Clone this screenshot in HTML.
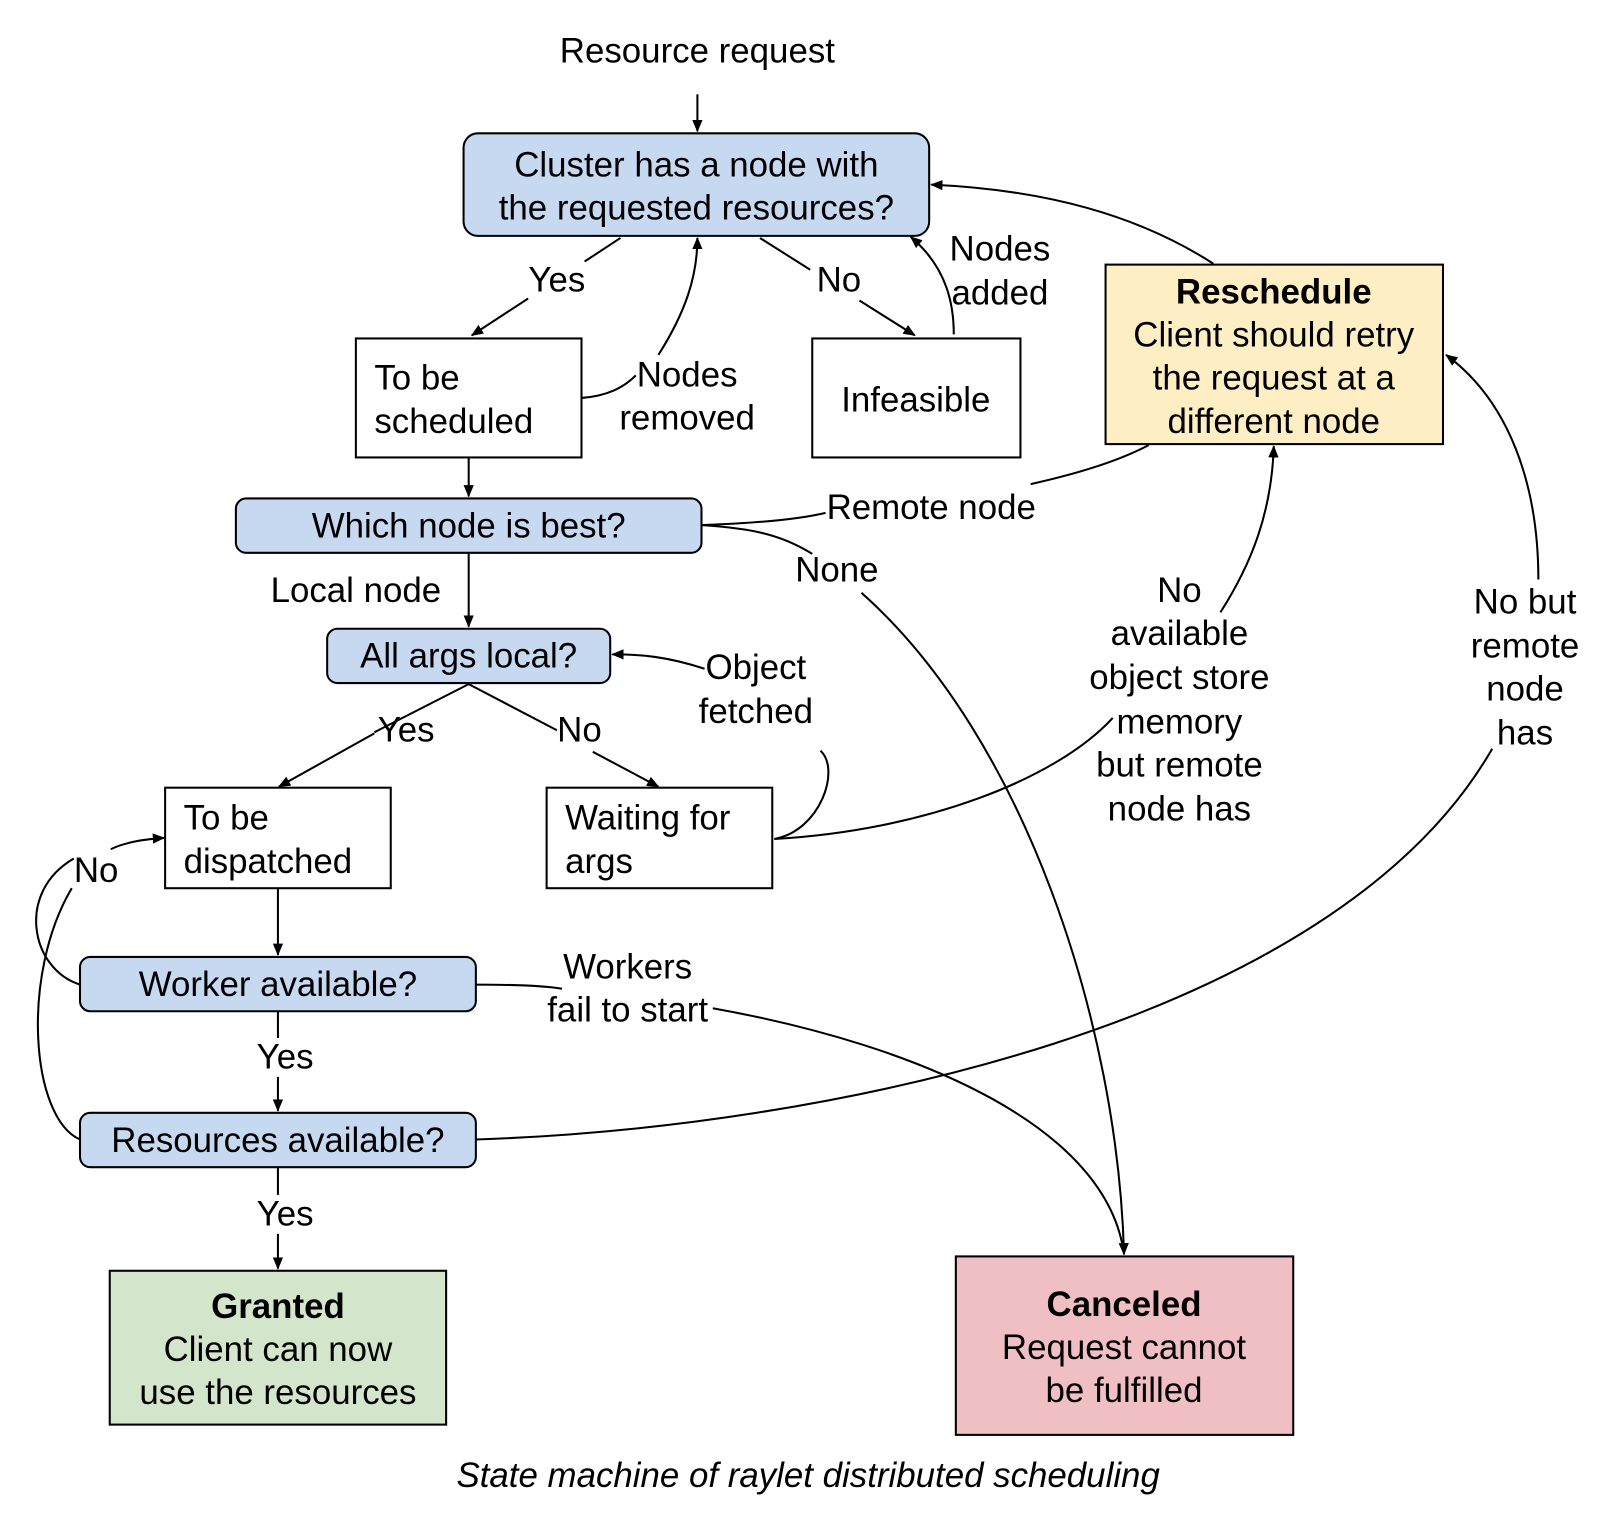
<!DOCTYPE html>
<html><head><meta charset="utf-8"><style>
html,body{margin:0;padding:0;background:#fff;}
svg{display:block;}
text{font-family:"Liberation Sans","Arimo","Helvetica",Arial,sans-serif;font-size:34px;fill:#000;}
.c{text-anchor:middle;}
.b{font-weight:bold;}
.l{fill:none;stroke:#000;stroke-width:2;}
.box{stroke:#000;stroke-width:2;}
</style></head><body>
<svg width="1604" height="1520" viewBox="0 0 1564 1482" preserveAspectRatio="none" xmlns="http://www.w3.org/2000/svg" font-family="Liberation Sans, Arial, Helvetica, sans-serif">
<defs><marker id="a" markerWidth="12" markerHeight="10" refX="11" refY="5" orient="auto" markerUnits="userSpaceOnUse"><path d="M0,0 L12,5 L0,10 z" fill="#000"/></marker></defs>

<text class="c" x="680" y="61">Resource request</text>
<rect class="box" x="452" y="130" width="454" height="100" rx="14" fill="#c6d9f0"/>
<text class="c" x="679" y="172">Cluster has a node with</text>
<text class="c" x="679" y="214">the requested resources?</text>

<rect class="box" x="347" y="330" width="220" height="116" fill="#fff"/>
<text x="365" y="380">To be</text><text x="365" y="422">scheduled</text>

<rect class="box" x="792" y="330" width="203" height="116" fill="#fff"/>
<text class="c" x="893" y="401">Infeasible</text>

<rect class="box" x="1078" y="258" width="329" height="175" fill="#fdefc3"/>
<text class="c b" x="1242" y="296">Reschedule</text>
<text class="c" x="1242" y="338">Client should retry</text>
<text class="c" x="1242" y="380">the request at a</text>
<text class="c" x="1242" y="422">different node</text>

<rect class="box" x="230" y="486" width="454" height="53" rx="10" fill="#c6d9f0"/>
<text class="c" x="457" y="524">Which node is best?</text>

<rect class="box" x="319" y="613" width="276" height="53" rx="10" fill="#c6d9f0"/>
<text class="c" x="457" y="651">All args local?</text>

<rect class="box" x="161" y="768" width="220" height="98" fill="#fff"/>
<text x="179" y="809">To be</text><text x="179" y="851">dispatched</text>

<rect class="box" x="533" y="768" width="220" height="98" fill="#fff"/>
<text x="551" y="809">Waiting for</text><text x="551" y="851">args</text>

<rect class="box" x="78" y="933" width="386" height="53" rx="10" fill="#c6d9f0"/>
<text class="c" x="271" y="971">Worker available?</text>

<rect class="box" x="78" y="1085" width="386" height="53" rx="10" fill="#c6d9f0"/>
<text class="c" x="271" y="1123">Resources available?</text>

<rect class="box" x="107" y="1239" width="328" height="150" fill="#d3e6cc"/>
<text class="c b" x="271" y="1285">Granted</text>
<text class="c" x="271" y="1327">Client can now</text>
<text class="c" x="271" y="1369">use the resources</text>

<rect class="box" x="932" y="1225" width="329" height="174" fill="#f0bfc3"/>
<text class="c b" x="1096" y="1283">Canceled</text>
<text class="c" x="1096" y="1325">Request cannot</text>
<text class="c" x="1096" y="1367">be fulfilled</text>

<text class="c" x="788" y="1450" style="font-style:italic">State machine of raylet distributed scheduling</text>

<path class="l" d="M680,92 L680,128" marker-end="url(#a)"/>
<path class="l" d="M605,232 L570,255"/><text class="c" x="543" y="284">Yes</text>
<path class="l" d="M515,291 L460,327" marker-end="url(#a)"/>
<path class="l" d="M741,232 L790,263"/><text class="c" x="818" y="284">No</text>
<path class="l" d="M838,293 L892,327" marker-end="url(#a)"/>
<path class="l" d="M930,326 C930,300 925,262 888,231" marker-end="url(#a)"/>
<text class="c" x="975" y="254">Nodes</text><text class="c" x="975" y="297">added</text>
<path class="l" d="M567,388 C592,386 608,378 620,366"/>
<path class="l" d="M642,346 C668,305 680,270 680,232" marker-end="url(#a)"/>
<text class="c" x="670" y="377">Nodes</text><text class="c" x="670" y="419">removed</text>
<path class="l" d="M1183,257 C1110,210 1020,185 908,180" marker-end="url(#a)"/>
<path class="l" d="M457,446 L457,484" marker-end="url(#a)"/>
<path class="l" d="M684,512 C740,510 780,506 805,500"/>
<text class="c" x="908" y="506">Remote node</text>
<path class="l" d="M1005,472 C1050,462 1090,450 1120,434"/>
<path class="l" d="M684,512 C730,515 760,520 792,540"/>
<text class="c" x="816" y="567">None</text>
<path class="l" d="M840,578 C1000,720 1090,1000 1096,1223" marker-end="url(#a)"/>
<path class="l" d="M457,539 L457,611" marker-end="url(#a)"/>
<text class="c" x="347" y="587">Local node</text>
<path class="l" d="M457,667 L365,714"/><text class="c" x="396" y="723">Yes</text>
<path class="l" d="M365,715 L272,767" marker-end="url(#a)"/>
<path class="l" d="M457,667 L543,712"/><text class="c" x="565" y="723">No</text>
<path class="l" d="M578,733 L642,767" marker-end="url(#a)"/>
<path class="l" d="M755,818 C800,810 820,750 800,732"/>
<text class="c" x="737" y="662">Object</text><text class="c" x="737" y="705">fetched</text>
<path class="l" d="M687,652 C650,640 625,638 597,638" marker-end="url(#a)"/>
<path class="l" d="M755,818 C900,810 1030,760 1085,700"/>
<g class="c"><text x="1150" y="587">No</text><text x="1150" y="629">available</text><text x="1150" y="672">object store</text><text x="1150" y="715">memory</text><text x="1150" y="757">but remote</text><text x="1150" y="800">node has</text></g>
<path class="l" d="M1190,597 C1220,550 1240,500 1242,435" marker-end="url(#a)"/>
<path class="l" d="M464,1111 C800,1100 1300,1000 1455,730"/>
<g class="c"><text x="1487" y="598">No but</text><text x="1487" y="641">remote</text><text x="1487" y="683">node</text><text x="1487" y="726">has</text></g>
<path class="l" d="M1500,565 C1500,470 1470,390 1410,346" marker-end="url(#a)"/>
<path class="l" d="M271,866 L271,931" marker-end="url(#a)"/>
<path class="l" d="M78,960 C30,945 15,870 72,837"/>
<path class="l" d="M108,828 C120,822 140,818 160,817" marker-end="url(#a)"/>
<text x="72" y="860">No</text>
<path class="l" d="M78,1111 C30,1090 20,950 70,866"/>
<path class="l" d="M271,986 L271,1012"/><text class="c" x="278" y="1042">Yes</text>
<path class="l" d="M271,1050 L271,1083" marker-end="url(#a)"/>
<path class="l" d="M271,1138 L271,1165"/><text class="c" x="278" y="1195">Yes</text>
<path class="l" d="M271,1203 L271,1237" marker-end="url(#a)"/>
<path class="l" d="M464,960 C500,960 530,961 548,964"/>
<text class="c" x="612" y="954">Workers</text><text class="c" x="612" y="996">fail to start</text>
<path class="l" d="M695,983 C900,1020 1080,1100 1096,1223"/>
</svg>
</body></html>
